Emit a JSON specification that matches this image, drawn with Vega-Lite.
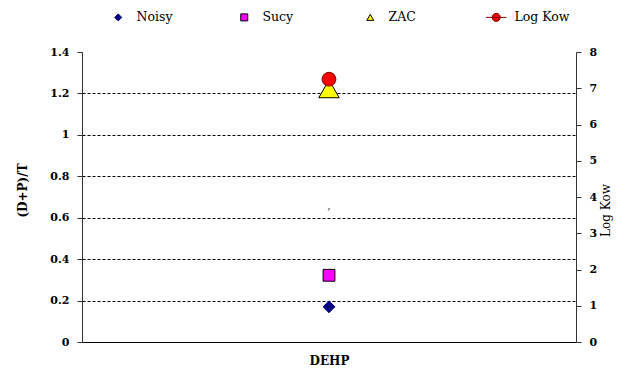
{
  "$schema": "https://vega.github.io/schema/vega-lite/v6.json",
  "width": 494,
  "height": 290,
  "autosize": {"type": "none"},
  "padding": {"left": 82, "top": 52, "right": 51, "bottom": 29},
  "background": "white",
  "config": {
    "view": {"stroke": null},
    "font": "DejaVu Serif",
    "axis": {"labelFont": "DejaVu Serif", "titleFont": "DejaVu Serif", "labelColor": "black", "titleColor": "black", "domainColor": "#333333", "tickColor": "#333333"}
  },
  "datasets": {
    "conc": [
      {"compound": "DEHP", "series": "Noisy", "value": 0.17},
      {"compound": "DEHP", "series": "Sucy", "value": 0.322},
      {"compound": "DEHP", "series": "ZAC", "value": 1.222}
    ],
    "kow": [
      {"compound": "DEHP", "series": "Log Kow", "value": 7.25}
    ],
    "labels": [
      {"compound": "DEHP", "label": ",", "value": 0.658}
    ]
  },
  "layer": [
    {
      "layer": [
        {
          "data": {"name": "conc"},
          "mark": {"type": "point", "filled": true, "strokeWidth": 1, "opacity": 1},
          "encoding": {
            "x": {
              "field": "compound", "type": "nominal",
              "scale": {"domain": ["DEHP"], "paddingInner": 0, "paddingOuter": 0},
              "axis": {"title": null, "ticks": false, "labelAngle": 0, "labelFontSize": 12, "labelFontWeight": "bold", "labelPadding": 13, "domainWidth": 1, "domainColor": "black"}
            },
            "y": {
              "field": "value", "type": "quantitative",
              "scale": {"domain": [0, 1.4], "nice": false},
              "axis": {
                "title": "(D+P)/T", "titleFontSize": 12, "titleFontWeight": "bold", "titlePadding": 20, "titleY": 138,
                "values": [0, 0.2, 0.4, 0.6, 0.8, 1, 1.2, 1.4], "format": "~g",
                "labelFontSize": 11, "labelFontWeight": "bold", "labelPadding": 8, "tickSize": 5,
                "grid": true, "gridColor": "black", "gridDash": [3, 2], "gridWidth": 1,
                "gridOpacity": {"condition": {"test": "datum.value == 0 || datum.value == 1.4", "value": 0}, "value": 1}
              }
            },
            "fill": {
              "field": "series", "type": "nominal",
              "scale": {"domain": ["Noisy", "Sucy", "ZAC", "Log Kow"], "range": ["#000080", "#FF00FF", "#FFFF00", "#FF0000"]},
              "legend": {"title": null, "orient": "none", "legendX": 30, "legendY": -41, "direction": "horizontal", "columns": 4, "gridAlign": "all", "columnPadding": 40, "labelFontSize": 12.5, "labelFont": "DejaVu Serif", "labelColor": "black", "symbolSize": 49, "symbolStrokeWidth": 1, "labelOffset": 12, "padding": 0}
            },
            "stroke": {
              "field": "series", "type": "nominal",
              "scale": {"domain": ["Noisy", "Sucy", "ZAC", "Log Kow"], "range": ["#000080", "#000000", "#000000", "#800000"]}
            },
            "shape": {
              "field": "series", "type": "nominal",
              "scale": {"domain": ["Noisy", "Sucy", "ZAC", "Log Kow"], "range": ["diamond", "square", "triangle-up", "M-2.9,0L2.9,0M-1.15,0A1.15,1.15,0,1,1,1.15,0A1.15,1.15,0,1,1,-1.15,0Z"]}
            },
            "size": {
              "condition": {"test": "datum.series === 'ZAC'", "value": 420},
              "value": 140
            }
          }
        },
        {
          "data": {"name": "labels"},
          "mark": {"type": "text", "fontSize": 11, "color": "#333333", "font": "DejaVu Serif"},
          "encoding": {
            "x": {"field": "compound", "type": "nominal"},
            "y": {"field": "value", "type": "quantitative"},
            "text": {"field": "label"}
          }
        }
      ]
    },
    {
      "data": {"name": "kow"},
      "mark": {"type": "point", "shape": "circle", "filled": true, "fill": "#FF0000", "stroke": "#800000", "strokeWidth": 1, "size": 190, "opacity": 1},
      "encoding": {
        "x": {"field": "compound", "type": "nominal"},
        "y": {
          "field": "value", "type": "quantitative",
          "scale": {"domain": [0, 8], "nice": false},
          "axis": {
            "orient": "right", "title": "Log Kow", "titleFontSize": 12, "titleFontWeight": "normal", "titleAngle": 270, "titleBaseline": "top", "titlePadding": 4, "titleY": 158,
            "values": [0, 1, 2, 3, 4, 5, 6, 7, 8],
            "labelFontSize": 11, "labelFontWeight": "bold", "labelPadding": 8, "tickSize": 5, "grid": false
          }
        }
      }
    }
  ],
  "resolve": {"scale": {"y": "independent"}, "axis": {"y": "independent"}}
}
